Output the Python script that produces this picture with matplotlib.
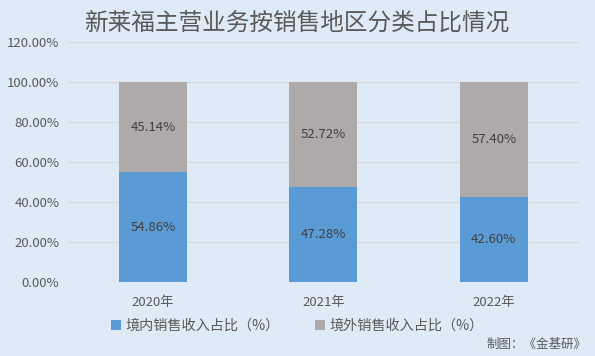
import numpy as np
import matplotlib
matplotlib.use("Agg")
import matplotlib.pyplot as plt

plt.rcParams['font.family'] = ['Noto Sans CJK SC', 'DejaVu Sans']

years = ["2020年", "2021年", "2022年"]
domestic = [54.86, 47.28, 42.60]
overseas = [45.14, 52.72, 57.40]
yticks = [0, 20, 40, 60, 80, 100, 120]

BG = "#DEEBF7"
BLUE = "#5B9BD5"
GRAY = "#AEAAAA"
TXT = "#404040"

fig = plt.figure(figsize=(5.95, 3.56), dpi=100, facecolor=BG)
ax = fig.add_axes([0.114, 0.208, 0.859, 0.674], facecolor=BG)

x = np.arange(len(years))
b1 = ax.bar(x, domestic, width=0.4, color=BLUE, label="境内销售收入占比（%）", zorder=3)
b2 = ax.bar(x, overseas, width=0.4, bottom=domestic, color=GRAY, label="境外销售收入占比（%）", zorder=3)

for i in range(len(years)):
    ax.text(x[i], domestic[i] / 2, "%.2f%%" % domestic[i], ha="center", va="center",
            fontsize=9.5, color=TXT, zorder=4)
    ax.text(x[i], domestic[i] + overseas[i] / 2, "%.2f%%" % overseas[i], ha="center", va="center",
            fontsize=9.5, color=TXT, zorder=4)

ax.set_xlim(-0.5, 2.5)
ax.set_ylim(0, 120)
ax.set_yticks(yticks)
ax.set_yticklabels(["%.2f%%" % v for v in yticks], fontsize=9.5, color="#595959")
ax.set_xticks(x)
ax.set_xticklabels(years, fontsize=9.5, color="#595959")
ax.tick_params(axis="both", length=0, pad=10)
ax.tick_params(axis="y", pad=6)
ax.grid(axis="y", color="#D9D9D9", linewidth=0.9, zorder=0)
for s in ax.spines.values():
    s.set_visible(False)

fig.text(0.498, 0.935, "新莱福主营业务按销售地区分类占比情况", ha="center", va="center",
         fontsize=17, color="#595959")

fig.legend(handles=[b1, b2], loc="center", bbox_to_anchor=(0.5, 0.085), ncol=2, frameon=False,
           fontsize=10.2, labelcolor="#595959", handlelength=0.7, handleheight=0.7,
           handletextpad=0.3, columnspacing=2.5)

fig.text(0.985, 0.015, "制图：《金基研》", ha="right", va="bottom", fontsize=9, color="#595959")

fig.savefig("out.png", dpi=100, facecolor=BG)
